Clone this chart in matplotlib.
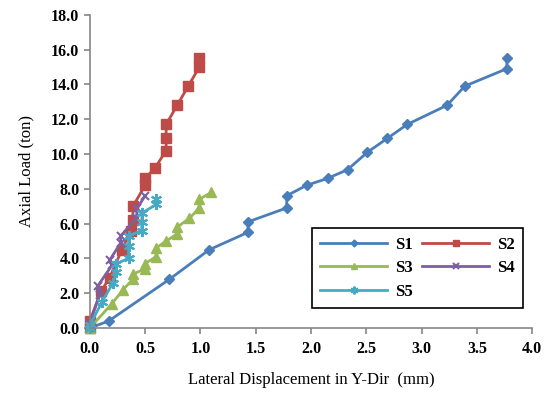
import matplotlib.pyplot as plt
import numpy as np

# S1 .. S5 load-displacement readings
s1_x = [0, 0.17, 0.72, 1.08, 1.43, 1.43, 1.78, 1.78, 1.96, 2.15, 2.33, 2.51, 2.69, 2.87, 3.23, 3.39, 3.77, 3.77]
s1_y = [0, 0.4, 2.8, 4.5, 5.5, 6.1, 6.9, 7.6, 8.2, 8.6, 9.1, 10.1, 10.9, 11.7, 12.8, 13.9, 14.9, 15.5]

s2_x = [0, 0.0, 0.1, 0.18, 0.29, 0.37, 0.39, 0.39, 0.5, 0.5, 0.59, 0.69, 0.69, 0.69, 0.79, 0.89, 0.99, 0.99]
s2_y = [0, 0.4, 2.1, 2.9, 4.5, 5.6, 6.2, 7.0, 8.2, 8.6, 9.2, 10.2, 10.9, 11.7, 12.8, 13.9, 15.0, 15.5]

s3_x = [0, 0.2, 0.3, 0.39, 0.39, 0.5, 0.5, 0.6, 0.6, 0.69, 0.79, 0.79, 0.9, 0.99, 0.99, 1.1]
s3_y = [0, 1.4, 2.2, 2.8, 3.1, 3.4, 3.7, 4.1, 4.6, 5.0, 5.4, 5.8, 6.3, 6.9, 7.4, 7.8]

s4_x = [0, 0.0, 0.09, 0.07, 0.2, 0.18, 0.28, 0.28, 0.42, 0.43, 0.5]
s4_y = [0, 0.3, 1.9, 2.4, 3.6, 3.9, 4.9, 5.3, 6.3, 6.9, 7.6]

s5_x = [0, 0.0, 0.11, 0.21, 0.24, 0.24, 0.35, 0.35, 0.35, 0.47, 0.47, 0.47, 0.6, 0.6]
s5_y = [0, 0.15, 1.5, 2.6, 3.2, 3.7, 4.0, 4.7, 5.3, 5.6, 6.1, 6.6, 7.1, 7.4]

x_ticks = [0, 0.5, 1.0, 1.5, 2.0, 2.5, 3.0, 3.5, 4.0]
y_ticks = [0, 2, 4, 6, 8, 10, 12, 14, 16, 18]

plt.rcParams['font.family'] = ['Liberation Serif', 'DejaVu Serif']

fig = plt.figure(figsize=(5.51, 3.94), dpi=100)
ax = fig.add_axes([0.163, 0.1675, 0.803, 0.795])

l1, = ax.plot(s1_x, s1_y, color='#4A7EBB', lw=2, marker='D', ms=5, label='S1', clip_on=False)
l2, = ax.plot(s2_x, s2_y, color='#BE4B48', lw=2, marker='s', ms=6.5, label='S2', clip_on=False)
l3, = ax.plot(s3_x, s3_y, color='#98B954', lw=2, marker='^', ms=7, label='S3', clip_on=False)
l4, = ax.plot(s4_x, s4_y, color='#7D60A0', lw=2, marker='x', ms=6, mew=1.5, label='S4', clip_on=False)
l5, = ax.plot(s5_x, s5_y, color='#46AAC5', lw=2, marker=(6, 2, 0), ms=8, mew=1.5, label='S5', clip_on=False)

ax.set_xlim(0, 4)
ax.set_ylim(0, 18)
ax.set_xticks(x_ticks)
ax.set_yticks(y_ticks)
ax.set_xticklabels(['%.1f' % v for v in x_ticks], fontweight='bold', fontsize=11.5)
ax.set_yticklabels(['%.1f' % v for v in y_ticks], fontweight='bold', fontsize=11.5)

for side in ['top', 'right']:
    ax.spines[side].set_visible(False)
for side in ['left', 'bottom']:
    ax.spines[side].set_color('#868686')
    ax.spines[side].set_linewidth(1.2)
ax.tick_params(colors='#868686', labelcolor='black', length=4, width=1.2)
ax.tick_params(axis='x', pad=5)

ax.set_xlabel('Lateral Displacement in Y-Dir  (mm)', fontsize=12, labelpad=11)
ax.set_ylabel('Axial Load (ton)', fontsize=12, labelpad=12)

# legend filled row by row: S1 S2 / S3 S4 / S5
handles = [l1, l3, l5, l2, l4]
leg = ax.legend(handles, [h.get_label() for h in handles], ncol=2, loc='lower left',
                bbox_to_anchor=(0.502, 0.064, 0.478, 0.246), mode='expand',
                fancybox=False, edgecolor='black', framealpha=1, markerscale=0.7,
                handlelength=4.0, prop={'weight': 'bold', 'size': 12},
                borderaxespad=0, borderpad=0.5, labelspacing=0.45,
                columnspacing=1.0, handletextpad=0.5)
leg.get_frame().set_linewidth(1.2)

fig.savefig('out.png', dpi=100)
